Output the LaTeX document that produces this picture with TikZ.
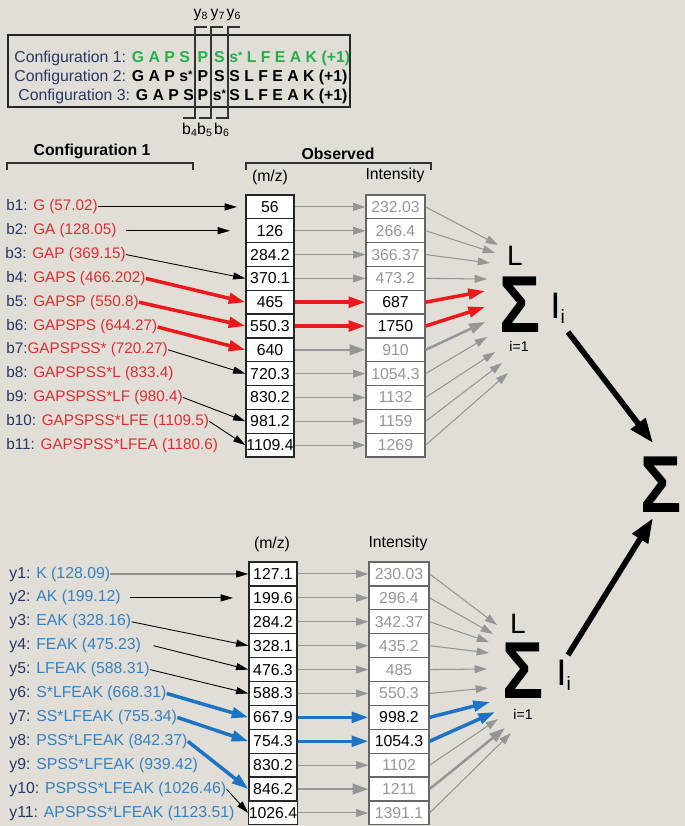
\documentclass[tikz,border=0pt]{standalone}
\usepackage{fontspec}
\setmainfont{Liberation Sans}
\usepackage{graphicx}
\usetikzlibrary{arrows.meta}
\definecolor{bgc}{RGB}{224,222,215}
\definecolor{navyc}{RGB}{40,55,100}
\definecolor{redc}{RGB}{222,45,50}
\definecolor{redac}{RGB}{235,25,30}
\definecolor{bluec}{RGB}{55,130,195}
\definecolor{blueac}{RGB}{30,115,195}
\definecolor{greenc}{RGB}{40,175,75}
\definecolor{grac}{RGB}{150,150,150}
\definecolor{grtx}{RGB}{150,150,150}
\newcommand\navytxt[1]{\textcolor{navyc}{#1}}
\newcommand\redtxt[1]{\textcolor{redc}{#1}}
\newcommand\bluetxt[1]{\textcolor{bluec}{#1}}
\newcommand\greentxt[1]{\textcolor{greenc}{#1}}
\newcommand\sstar{s\raisebox{1.5pt}{\scalebox{0.7}{*}}}
\begin{document}
\begin{tikzpicture}[x=0.02cm,y=-0.02cm,
  lbl/.style={anchor=west,inner sep=0pt,font=\fontsize{8.7}{10}\selectfont},
  lblb/.style={anchor=west,inner sep=0pt,font=\fontsize{9}{10}\selectfont},
  txt/.style={inner sep=0pt,font=\fontsize{9}{10}\selectfont},
  btxt/.style={inner sep=0pt,font=\fontsize{9}{10}\selectfont\bfseries},
  cell/.style={draw=black!85,line width=0.7pt,fill=white,minimum width=0.96cm,minimum height=0.4764cm,inner sep=0pt,font=\fontsize{9}{10}\selectfont},
  icell/.style={cell,draw=black!60,minimum width=1.18cm},
  brk/.style={draw=black!80,line width=0.6pt},
  blkar/.style={draw=black,line width=0.5pt,-{Triangle[length=7pt,width=4pt]}},
  thingr/.style={draw=grac,line width=0.6pt,-{Triangle[length=7pt,width=4.5pt]}},
  thickgr/.style={draw=grac,line width=1.4pt,-{Triangle[length=9pt,width=6pt]}},
  redarw/.style={draw=redac,line width=2pt,-{Triangle[length=9.5pt,width=6pt]}},
  bluarw/.style={draw=blueac,line width=2pt,-{Triangle[length=9.5pt,width=6pt]}},
  bigar/.style={draw=black,line width=3.2pt,-{Triangle[length=14pt,width=10pt]}},
  sig/.style={inner sep=0pt,anchor=base,text height=32pt,text depth=0pt,font=\fontsize{46}{46}\selectfont\bfseries},
  lim/.style={inner sep=0pt,anchor=base,text depth=0pt}
]
\fill[bgc] (0,0) rectangle (685,826);
\useasboundingbox (0,0) rectangle (685,826);

% ---------- configuration box ----------
\draw[line width=0.8pt,black!85] (8,35) rectangle (350,107);
\node[txt,anchor=base west] (c1a) at (14,62) {\navytxt{Configuration 1:} \greentxt{\bfseries G A P S}};
\node[btxt,anchor=base] (c1b) at (203,62) {\greentxt{P}};
\node[btxt,anchor=base] (c1c) at (219.5,62) {\greentxt{S}};
\node[btxt,anchor=base west] (c1d) at (229,62) {\greentxt{\sstar\ L F E A K (+1)}};
\node[txt,anchor=base west] (c2a) at (14,81) {\navytxt{Configuration 2:} \textbf{G A P \sstar}};
\node[btxt,anchor=base] (c2b) at (203,81) {P};
\node[btxt,anchor=base] (c2c) at (219.5,81) {S};
\node[btxt,anchor=base west] (c2d) at (229,81) {S L F E A K (+1)};
\node[txt,anchor=base west] (c3a) at (18,100) {\navytxt{Configuration 3:} \textbf{G A P S}};
\node[btxt,anchor=base] (c3b) at (203,100) {P};
\node[btxt,anchor=base] (c3c) at (219.5,100) {\sstar};
\node[btxt,anchor=base west] (c3d) at (229,100) {S L F E A K (+1)};
\draw[brk] (183,118) -- (195,118) -- (195,27) -- (207,27);
\draw[brk] (199,118) -- (211,118) -- (211,27) -- (223,27);
\draw[brk] (216,118) -- (228,118) -- (228,27) -- (240,27);
\node[txt] (ly8) at (201,15) {y\textsubscript{8}};
\node[txt] (ly7) at (218,15) {y\textsubscript{7}};
\node[txt] (ly6) at (234,15) {y\textsubscript{6}};
\node[txt] (lb4) at (190,130) {b\textsubscript{4}};
\node[txt] (lb5) at (205,130) {b\textsubscript{5}};
\node[txt] (lb6) at (222,130) {b\textsubscript{6}};

% ---------- headers ----------
\node[btxt] (h1) at (92,151) {Configuration 1};
\draw[brk] (7,170) -- (7,163) -- (193,163) -- (193,170);
\node[btxt] (h2) at (338,154) {Observed};
\draw[brk] (246,170) -- (246,163) -- (431,163) -- (431,170);
\node[txt] (mz1) at (270,177) {(m/z)};
\node[txt] (in1) at (395,175) {Intensity};
\node[txt] (mz2) at (272,544) {(m/z)};
\node[txt] (in2) at (398,543) {Intensity};

% ---------- top cells ----------
\foreach \v [count=\i] in {56,126,284.2,370.1,465,550.3,640,720.3,830.2,981.2,1109.4}
  \node[cell] (m\i) at (270,{195+23.82*(\i-0.5)}) {\v};
\foreach \v/\c [count=\i] in {232.03/grtx,266.4/grtx,366.37/grtx,473.2/grtx,687/black,1750/black,910/grtx,1054.3/grtx,1132/grtx,1159/grtx,1269/grtx}
  \node[icell,text=\c] (t\i) at (395.5,{195+23.82*(\i-0.5)}) {\v};

% ---------- bottom cells ----------
\foreach \v [count=\i] in {127.1,199.6,284.2,328.1,476.3,588.3,667.9,754.3,830.2,846.2,1026.4}
  \node[cell] (lm\i) at (273,{562+23.9*(\i-0.5)}) {\v};
\foreach \v/\c [count=\i] in {230.03/grtx,296.4/grtx,342.37/grtx,435.2/grtx,485/grtx,550.3/grtx,998.2/black,1054.3/black,1102/grtx,1211/grtx,1391.1/grtx}
  \node[icell,minimum width=1.2cm,text=\c] (lt\i) at (399,{562+23.9*(\i-0.5)}) {\v};

% ---------- top labels ----------
\node[lbl] (b1) at (6,206.9) {\navytxt{b1:} \redtxt{G (57.02)}};
\node[lbl] (b2) at (6,230.7) {\navytxt{b2:} \redtxt{GA (128.05)}};
\node[lbl] (b3) at (5,254.6) {\navytxt{b3:} \redtxt{GAP (369.15)}};
\node[lbl] (b4) at (6,278.4) {\navytxt{b4:} \redtxt{GAPS (466.202)}};
\node[lbl] (b5) at (6,302.2) {\navytxt{b5:} \redtxt{GAPSP (550.8)}};
\node[lbl] (b6) at (6,327.0) {\navytxt{b6:} \redtxt{GAPSPS (644.27)}};
\node[lbl] (b7) at (6,349.8) {\navytxt{b7:}\redtxt{GAPSPSS* (720.27)}};
\node[lbl] (b8) at (6,373.7) {\navytxt{b8:} \redtxt{GAPSPSS*L (833.4)}};
\node[lbl] (b9) at (6,397.5) {\navytxt{b9:} \redtxt{GAPSPSS*LF (980.4)}};
\node[lbl] (b10) at (6,421.3) {\navytxt{b10:} \redtxt{GAPSPSS*LFE (1109.5)}};
\node[lbl] (b11) at (6,445.1) {\navytxt{b11:} \redtxt{GAPSPSS*LFEA (1180.6)}};

% ---------- bottom labels ----------
\node[lblb] (y1) at (9,574.0) {\navytxt{y1:} \bluetxt{K (128.09)}};
\node[lblb] (y2) at (9,597.9) {\navytxt{y2:} \bluetxt{AK (199.12)}};
\node[lblb] (y3) at (9,621.8) {\navytxt{y3:} \bluetxt{EAK (328.16)}};
\node[lblb] (y4) at (9,645.7) {\navytxt{y4:} \bluetxt{FEAK (475.23)}};
\node[lblb] (y5) at (9,669.6) {\navytxt{y5:} \bluetxt{LFEAK (588.31)}};
\node[lblb] (y6) at (9,693.5) {\navytxt{y6:} \bluetxt{S*LFEAK (668.31)}};
\node[lblb] (y7) at (9,717.4) {\navytxt{y7:} \bluetxt{SS*LFEAK (755.34)}};
\node[lblb] (y8) at (9,741.3) {\navytxt{y8:} \bluetxt{PSS*LFEAK (842.37)}};
\node[lblb] (y9) at (9,765.2) {\navytxt{y9:} \bluetxt{SPSS*LFEAK (939.42)}};
\node[lblb] (y10) at (9,789.1) {\navytxt{y10:} \bluetxt{PSPSS*LFEAK (1026.46)}};
\node[lblb] (y11) at (9,813.0) {\navytxt{y11:} \bluetxt{APSPSS*LFEAK (1123.51)}};

% ---------- label arrows (top) ----------
\coordinate (e1) at (237,206.9);
\coordinate (e2) at (230,230.7);
\draw[blkar] (b1.east) -- (e1);
\draw[blkar] ([xshift=5pt]b2.east) -- (e2);
\draw[blkar] (b3.east) -- (m4.west);
\draw[redarw] (b4.east) -- (m5.west);
\draw[redarw] (b5.east) -- (m6.west);
\draw[redarw] (b6.east) -- (m7.west);
\draw[blkar] (b7.east) -- (m8.west);
\draw[blkar] (b9.east) -- (m10.west);
\draw[blkar] (b10.east) -- (m11.west);

% ---------- label arrows (bottom) ----------
\coordinate (f2) at (233,597.9);
\draw[blkar] (y1.east) -- (lm1.west);
\draw[blkar] ([xshift=5pt]y2.east) -- (f2);
\draw[blkar] (y3.east) -- (lm4.west);
\draw[blkar] ([xshift=7pt]y4.east) -- (lm5.west);
\draw[blkar] (y5.east) -- (lm6.west);
\draw[bluarw] (y6.east) -- (lm7.west);
\draw[bluarw] (y7.east) -- (lm8.west);
\draw[bluarw] (y8.east) -- (lm10.west);
\draw[blkar] (y10.east) -- (lm11.west);

% ---------- middle arrows ----------
\foreach \i in {1,2,3,4,8,9,10,11} \draw[thingr] (m\i.east) -- (t\i.west);
\draw[redarw] (m5.east) -- (t5.west);
\draw[redarw] (m6.east) -- (t6.west);
\draw[thickgr] (m7.east) -- (t7.west);
\foreach \i in {1,2,3,4,5,6,9,11} \draw[thingr] (lm\i.east) -- (lt\i.west);
\draw[bluarw] (lm7.east) -- (lt7.west);
\draw[bluarw] (lm8.east) -- (lt8.west);
\draw[thickgr] (lm10.east) -- (lt10.west);

% ---------- sums ----------
\node[sig] (S1) at (520,332) {\scalebox{0.85}[1]{Σ}};
\node[lim,text height=11.5pt,font=\fontsize{16}{16}\selectfont] (L1) at (515,265) {L};
\node[lim,text height=5.8pt,font=\fontsize{8}{8}\selectfont] (i1) at (519,351) {i=1};
\node[inner sep=0pt,anchor=base west,font=\fontsize{21}{21}\selectfont] (I1) at (550,318) {I\raisebox{-3pt}{\fontsize{11}{11}\selectfont i}};

\node[sig] (S2) at (523.5,698) {\scalebox{0.85}[1]{Σ}};
\node[lim,text height=11.5pt,font=\fontsize{16}{16}\selectfont] (L2) at (518,633) {L};
\node[lim,text height=5.8pt,font=\fontsize{8}{8}\selectfont] (i2) at (523,719) {i=1};
\node[inner sep=0pt,anchor=base west,font=\fontsize{21}{21}\selectfont] (I2) at (556,685) {I\raisebox{-3pt}{\fontsize{11}{11}\selectfont i}};

\node[sig] (S3) at (661,512) {\scalebox{0.85}[1]{Σ}};

% ---------- arrows into top sum ----------
\foreach \i/\px/\py in {1/498/245,2/495/253,3/490/263,4/487/279,5/485/291,6/485/307,7/485/322,8/487/337,9/495/352,10/502/363,11/508/373}
  \coordinate (s\i) at (\px,\py);
\foreach \i in {1,2,3,4,8,9,10,11} \draw[thingr] (t\i.east) -- (s\i);
\draw[redarw] (t5.east) -- (s5);
\draw[redarw] (t6.east) -- (s6);
\draw[thickgr] (t7.east) -- (s7);

% ---------- arrows into bottom sum ----------
\foreach \i/\px/\py in {1/497/625,2/493/634,3/489/642,4/489/653,5/487/669,6/488/688,7/490/702,8/495/712,9/498/719,10/505/728,11/511/733}
  \coordinate (u\i) at (\px,\py);
\foreach \i in {1,2,3,4,5,6,9,11} \draw[thingr] (lt\i.east) -- (u\i);
\draw[bluarw] (lt7.east) -- (u7);
\draw[bluarw] (lt8.east) -- (u8);
\draw[thickgr] (lt10.east) -- (u10);

% ---------- big arrows ----------
\coordinate (g1a) at (568,332);
\coordinate (g1b) at (653,443);
\coordinate (g2a) at (568,655);
\coordinate (g2b) at (653,518);
\draw[bigar] (g1a) -- (g1b);
\draw[bigar] (g2a) -- (g2b);
\end{tikzpicture}
\end{document}
